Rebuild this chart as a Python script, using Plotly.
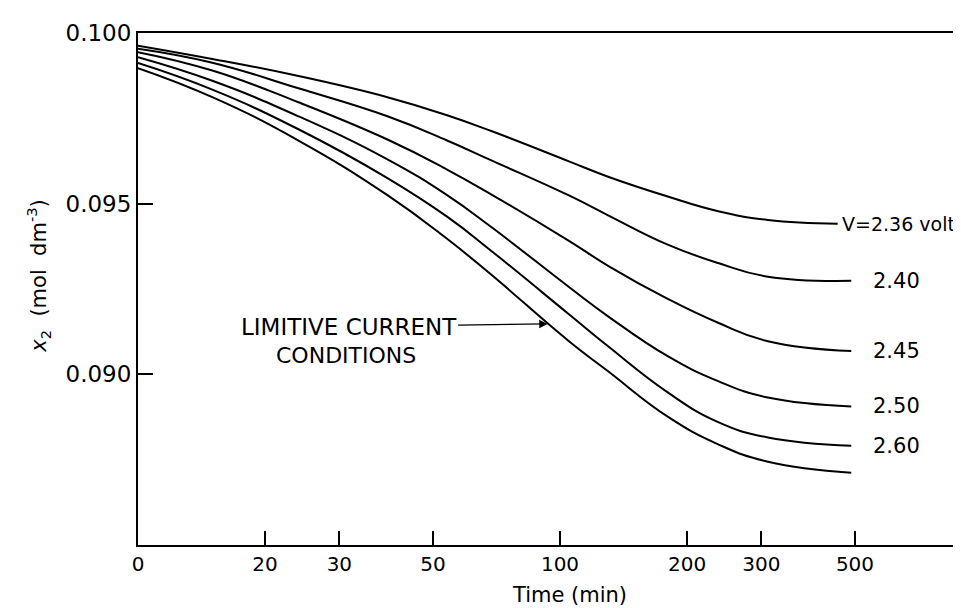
import numpy as np
import plotly.graph_objects as go

# ---- data ----
TIME_MIN = [0, 15, 24, 39, 54, 69, 105, 130, 180, 237, 311, 490]
END_TIME_236 = 455          # the V = 2.36 curve stops a little earlier (label follows it)
ZERO_POS = 10               # where the "0" of the log time axis is drawn

X2_V236 = [0.09963, 0.09924, 0.09874, 0.09812, 0.09759, 0.09712, 0.09624, 0.09579, 0.09521, 0.09478, 0.09452, 0.09441]
X2_V240 = [0.09954, 0.09913, 0.09838, 0.09756, 0.09685, 0.09626, 0.09524, 0.09466, 0.09380, 0.09326, 0.09286, 0.09274]
X2_V245 = [0.09944, 0.09890, 0.09797, 0.09688, 0.09600, 0.09526, 0.09391, 0.09318, 0.09221, 0.09151, 0.09097, 0.09068]
X2_V250 = [0.09929, 0.09860, 0.09756, 0.09630, 0.09525, 0.09430, 0.09256, 0.09170, 0.09053, 0.08980, 0.08932, 0.08906]
X2_V260 = [0.09912, 0.09834, 0.09718, 0.09575, 0.09462, 0.09360, 0.09176, 0.09082, 0.08947, 0.08860, 0.08815, 0.08791]
X2_LIMIT = [0.09897, 0.09812, 0.09685, 0.09525, 0.09397, 0.09290, 0.09097, 0.09009, 0.08876, 0.08795, 0.08744, 0.08712]

CURVE_LABELS = ["V=2.36 volt", "2.40", "2.45", "2.50", "2.60", None]

X_TICK_VALUES = [0, 20, 30, 50, 100, 200, 300, 500]
X_TICK_TEXT = ["0", "20", "30", "50", "100", "200", "300", "500"]
Y_TICK_VALUES = [0.090, 0.095, 0.100]
Y_TICK_TEXT = ["0.090", "0.095", "0.100"]

ARROW_TIME = 94   # where the "limitive current" arrow meets its curve

# ---- build ----
def pos(t):
    return ZERO_POS if t == 0 else t

times = [pos(t) for t in TIME_MIN]
times_236 = times[:-1] + [END_TIME_236]
series = [X2_V236, X2_V240, X2_V245, X2_V250, X2_V260, X2_LIMIT]

FONT = "DejaVu Sans"
fig = go.Figure()
for i, ys in enumerate(series):
    xs = times_236 if i == 0 else times
    fig.add_trace(go.Scatter(x=xs, y=ys, mode="lines",
                             line=dict(color="black", width=2, shape="spline", smoothing=1.3),
                             showlegend=False, hoverinfo="skip"))

annotations = []
for i, (lab, ys) in enumerate(zip(CURVE_LABELS, series)):
    if lab is None:
        continue
    xs = times_236 if i == 0 else times
    annotations.append(dict(x=np.log10(xs[-1]), y=ys[-1], xref="x", yref="y",
                            text=lab, showarrow=False, xanchor="left", yanchor="middle",
                            xshift=2 if i == 0 else 20,
                            font=dict(family=FONT, size=19 if i == 0 else 21, color="black")))

# arrow to the limiting-current curve
lt = np.log10(times)
tip_y = float(np.interp(np.log10(ARROW_TIME), lt, X2_LIMIT))
annotations.append(dict(x=np.log10(ARROW_TIME), y=tip_y, xref="x", yref="y",
                        text="LIMITIVE CURRENT", showarrow=True, ax=-200, ay=3,
                        arrowhead=2, arrowsize=1.3, arrowwidth=1.3, arrowcolor="black",
                        standoff=1, font=dict(family=FONT, size=23, color="black")))
annotations.append(dict(x=0.251, y=0.371, xref="paper", yref="paper",
                        text="CONDITIONS", showarrow=False, xanchor="center", yanchor="middle",
                        font=dict(family=FONT, size=22, color="black")))
# axis titles
annotations.append(dict(x=0.52, y=-0.098, xref="paper", yref="paper",
                        text="Time (min)", showarrow=False, xanchor="center", yanchor="middle",
                        font=dict(family=FONT, size=21, color="black")))
annotations.append(dict(x=-0.12, y=0.525, xref="paper", yref="paper", textangle=-90,
                        text="<i>x</i><sub>2</sub>  (mol  dm<sup>-3</sup>)", showarrow=False,
                        xanchor="center", yanchor="middle",
                        font=dict(family=FONT, size=21, color="black")))

fig.update_layout(
    width=961, height=608,
    margin=dict(l=130, r=2, t=25, b=71),
    paper_bgcolor="white", plot_bgcolor="white",
    annotations=annotations,
    xaxis=dict(type="log", range=[np.log10(ZERO_POS), np.log10(ZERO_POS) + 829 / 422],
               tickvals=[pos(t) for t in X_TICK_VALUES], ticktext=X_TICK_TEXT,
               ticks="inside", ticklen=14, tickwidth=1.5, tickcolor="black",
               showline=True, linecolor="black", linewidth=2, mirror=True,
               showgrid=False, zeroline=False,
               tickfont=dict(family=FONT, size=20, color="black")),
    yaxis=dict(range=[0.085, 0.100], tickvals=Y_TICK_VALUES, ticktext=Y_TICK_TEXT,
               ticks="inside", ticklen=15, tickwidth=1.5, tickcolor="black",
               showline=True, linecolor="black", linewidth=2,
               showgrid=False, zeroline=False,
               tickfont=dict(family=FONT, size=23, color="black")),
)

fig.write_html("out.html")
